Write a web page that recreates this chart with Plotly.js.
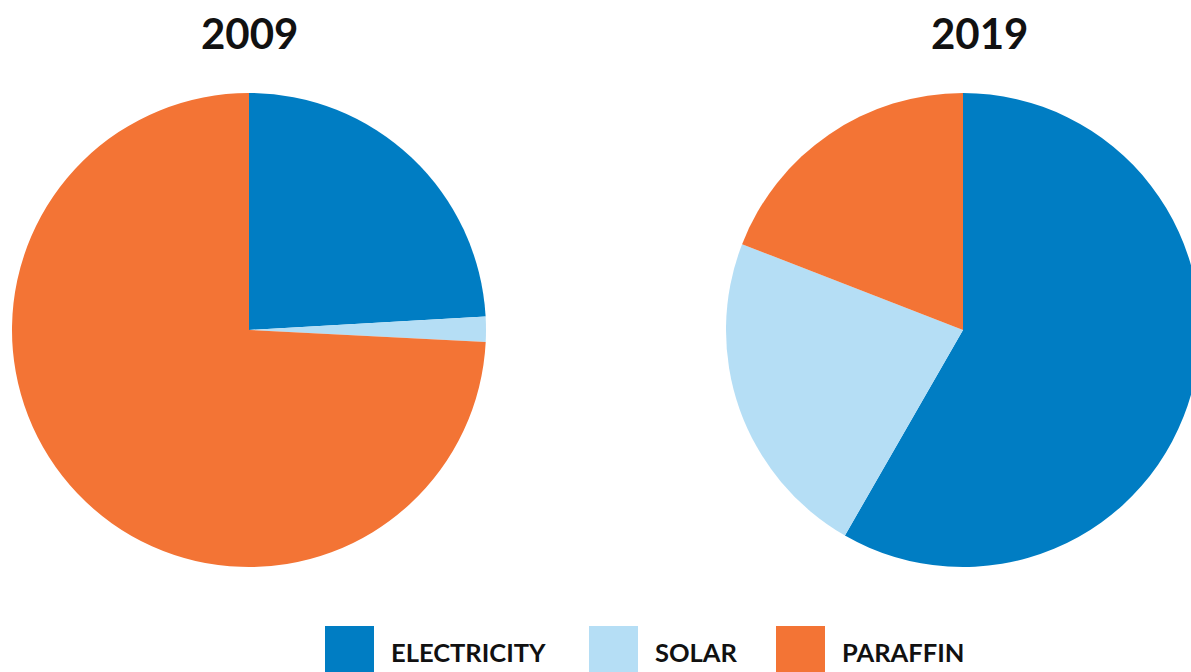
<!DOCTYPE html>
<html>
<head>
<meta charset="utf-8">
<script src="https://cdn.plot.ly/plotly-3.0.1.min.js"></script>
<style>
html, body { margin:0; padding:0; overflow:hidden; background:#fff; width:1191px; height:672px; }
#chart { width:1210px; height:672px; }
</style>
</head>
<body>
<div id="chart"></div>
<script>
const categories = ["ELECTRICITY", "SOLAR", "PARAFFIN"];
const years = ["2009", "2019"];
const values2009 = [24.1, 1.7, 74.2];
const values2019 = [58.3, 22.6, 19.1];
const colors = ["#007DC3", "#B5DEF5", "#F37435"];

const W = 1210, H = 672;
const px = v => v / W;
const py = v => 1 - v / H;

const pieDomains = [
  {x: [px(12), px(486)], y: [py(567), py(93)]},
  {x: [px(726), px(1200)], y: [py(567), py(93)]}
];
const allValues = [values2009, values2019];

const data = allValues.map((vals, i) => ({
  type: "pie",
  labels: categories,
  values: vals,
  marker: {colors: colors, line: {width: 0}},
  sort: false,
  direction: "clockwise",
  rotation: 0,
  textinfo: "none",
  hoverinfo: "label+percent",
  showlegend: false,
  domain: pieDomains[i]
}));

const titleX = [249, 979];
const annotations = years.map((y, i) => ({
  text: "<b>" + y + "</b>",
  x: px(titleX[i]), y: py(33), xref: "paper", yref: "paper",
  xanchor: "center", yanchor: "middle", showarrow: false,
  font: {family: "Lato, 'Open Sans', sans-serif", size: 42, color: "#111"}
}));

// custom legend
const legendSquareX = [325, 589, 776];
const shapes = [];
categories.forEach((c, i) => {
  shapes.push({
    type: "rect", xref: "paper", yref: "paper",
    x0: px(legendSquareX[i]), x1: px(legendSquareX[i] + 49),
    y0: py(680), y1: py(626),
    fillcolor: colors[i], line: {width: 0}
  });
  annotations.push({
    text: "<b>" + c + "</b>",
    x: px(legendSquareX[i] + 63.5), y: py(652), xref: "paper", yref: "paper",
    xanchor: "left", yanchor: "middle", showarrow: false,
    font: {family: "Lato, 'Open Sans', sans-serif", size: 25.5, color: "#111"}
  });
});

const layout = {
  width: W, height: H,
  margin: {l: 0, r: 0, t: 0, b: 0},
  paper_bgcolor: "#fff",
  showlegend: false,
  annotations: annotations,
  shapes: shapes
};

Plotly.newPlot("chart", data, layout, {displayModeBar: false, staticPlot: false});
</script>
</body>
</html>
